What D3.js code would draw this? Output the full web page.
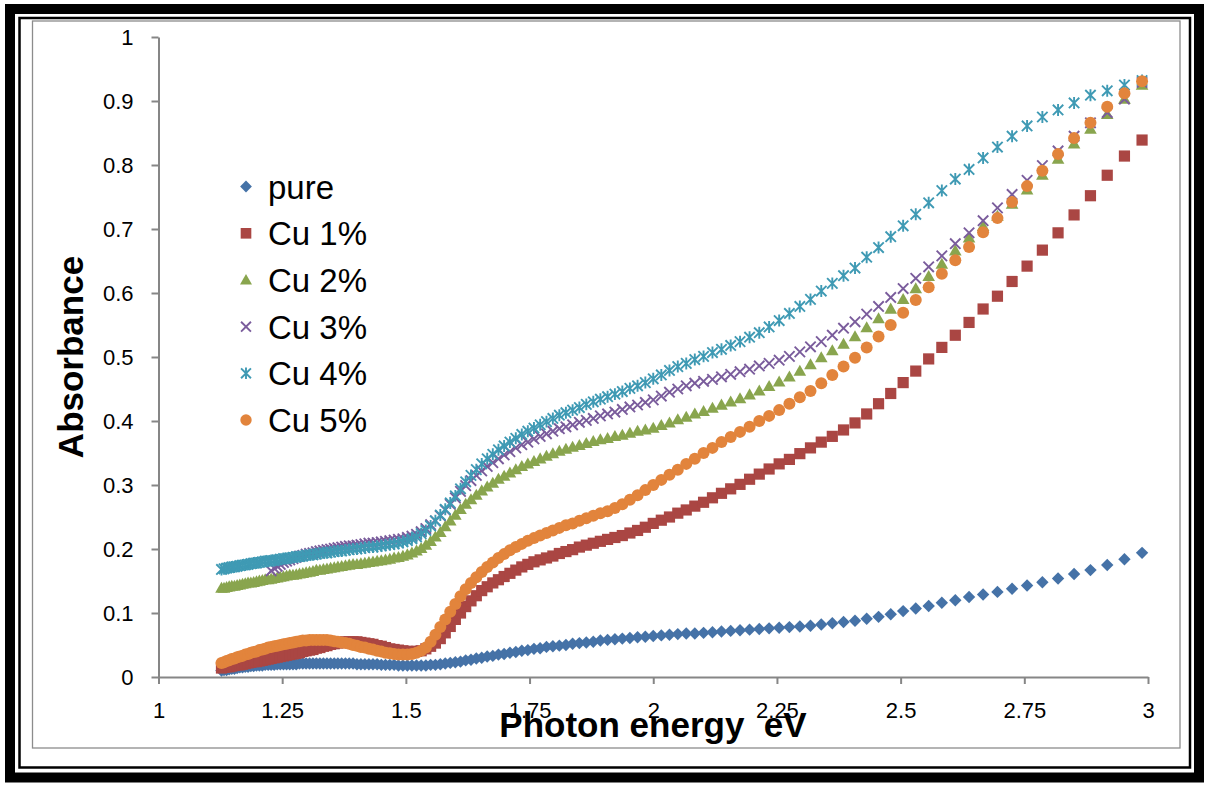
<!DOCTYPE html>
<html><head><meta charset="utf-8">
<script src="https://cdn.jsdelivr.net/npm/d3@7"></script>
<style>
html,body{margin:0;padding:0;background:#fff;}
svg{display:block;}
text{font-family:"Liberation Sans",Arial,sans-serif;fill:#000;}
</style></head><body>
<svg id="chart" width="1206" height="787"></svg>
<script>
// Photon energy (eV) of each measured point
const energy = [
1.1273,1.1324,1.1376,1.1429,1.1481,1.1535,1.1589,1.1643,1.1698,1.1754,
1.1810,1.1866,1.1923,1.1981,1.2039,1.2098,1.2157,1.2217,1.2277,1.2338,
1.2400,1.2462,1.2525,1.2589,1.2653,1.2718,1.2784,1.2850,1.2917,1.2984,
1.3053,1.3122,1.3191,1.3262,1.3333,1.3405,1.3478,1.3552,1.3626,1.3702,
1.3778,1.3855,1.3933,1.4011,1.4091,1.4171,1.4253,1.4335,1.4419,1.4503,
1.4588,1.4675,1.4762,1.4850,1.4940,1.5030,1.5122,1.5215,1.5309,1.5404,
1.5500,1.5597,1.5696,1.5796,1.5897,1.6000,1.6104,1.6209,1.6316,1.6424,
1.6533,1.6644,1.6757,1.6871,1.6986,1.7103,1.7222,1.7343,1.7465,1.7589,
1.7714,1.7842,1.7971,1.8102,1.8235,1.8370,1.8507,1.8647,1.8788,1.8931,
1.9077,1.9225,1.9375,1.9528,1.9683,1.9840,2.0000,2.0163,2.0328,2.0496,
2.0667,2.0840,2.1017,2.1197,2.1379,2.1565,2.1754,2.1947,2.2143,2.2342,
2.2545,2.2752,2.2963,2.3178,2.3396,2.3619,2.3846,2.4078,2.4314,2.4554,
2.4800,2.5051,2.5306,2.5567,2.5833,2.6105,2.6383,2.6667,2.6957,2.7253,
2.7556,2.7865,2.8182,2.8506,2.8837,2.9176,2.9524,2.9880];

const pure = [
0.010,0.011,0.011,0.012,0.013,0.013,0.014,0.015,0.015,0.016,
0.016,0.017,0.017,0.018,0.018,0.018,0.019,0.019,0.019,0.019,
0.020,0.020,0.020,0.020,0.020,0.020,0.020,0.021,0.021,0.021,
0.021,0.021,0.021,0.021,0.021,0.021,0.021,0.021,0.021,0.021,
0.021,0.021,0.021,0.020,0.020,0.020,0.020,0.020,0.020,0.019,
0.019,0.019,0.019,0.018,0.018,0.018,0.018,0.018,0.018,0.018,
0.019,0.019,0.020,0.021,0.022,0.023,0.024,0.026,0.027,0.029,
0.030,0.032,0.033,0.035,0.036,0.038,0.039,0.041,0.042,0.044,
0.045,0.047,0.048,0.049,0.050,0.052,0.053,0.054,0.055,0.057,
0.058,0.059,0.060,0.061,0.062,0.063,0.064,0.065,0.066,0.067,
0.068,0.068,0.069,0.070,0.071,0.072,0.073,0.074,0.075,0.076,
0.077,0.078,0.079,0.080,0.082,0.084,0.086,0.088,0.091,0.094,
0.098,0.103,0.107,0.111,0.116,0.120,0.125,0.129,0.133,0.138,
0.143,0.148,0.154,0.161,0.167,0.175,0.184,0.194];

const cu1 = [
0.014,0.015,0.016,0.016,0.017,0.018,0.019,0.019,0.020,0.021,
0.022,0.023,0.024,0.024,0.025,0.026,0.027,0.028,0.029,0.030,
0.031,0.032,0.033,0.034,0.035,0.036,0.037,0.038,0.040,0.041,
0.042,0.043,0.045,0.046,0.048,0.049,0.051,0.052,0.053,0.054,
0.055,0.055,0.055,0.055,0.054,0.053,0.052,0.051,0.049,0.048,
0.046,0.044,0.043,0.042,0.041,0.040,0.040,0.040,0.041,0.044,
0.048,0.053,0.060,0.069,0.079,0.090,0.100,0.110,0.119,0.127,
0.135,0.141,0.147,0.152,0.157,0.162,0.167,0.172,0.176,0.180,
0.183,0.186,0.189,0.193,0.196,0.199,0.203,0.206,0.209,0.212,
0.215,0.218,0.221,0.225,0.229,0.234,0.240,0.245,0.250,0.256,
0.261,0.267,0.273,0.280,0.287,0.294,0.301,0.309,0.317,0.325,
0.333,0.340,0.349,0.358,0.367,0.376,0.386,0.397,0.411,0.427,
0.443,0.460,0.478,0.497,0.515,0.534,0.554,0.575,0.595,0.618,
0.642,0.667,0.694,0.722,0.752,0.784,0.814,0.839];

const cu2 = [
0.139,0.139,0.140,0.141,0.142,0.142,0.143,0.144,0.145,0.146,
0.147,0.147,0.148,0.149,0.150,0.151,0.152,0.152,0.153,0.154,
0.155,0.156,0.157,0.158,0.159,0.159,0.160,0.161,0.162,0.163,
0.164,0.165,0.167,0.167,0.168,0.169,0.170,0.171,0.172,0.173,
0.174,0.175,0.176,0.176,0.177,0.178,0.179,0.180,0.181,0.182,
0.183,0.184,0.186,0.187,0.189,0.191,0.194,0.197,0.201,0.206,
0.212,0.219,0.226,0.235,0.244,0.253,0.262,0.270,0.277,0.284,
0.291,0.297,0.303,0.309,0.314,0.319,0.324,0.329,0.333,0.337,
0.341,0.345,0.349,0.353,0.356,0.359,0.362,0.365,0.368,0.371,
0.373,0.376,0.378,0.381,0.384,0.386,0.389,0.393,0.397,0.402,
0.406,0.411,0.415,0.420,0.425,0.430,0.435,0.441,0.447,0.454,
0.461,0.469,0.478,0.488,0.499,0.510,0.520,0.532,0.546,0.560,
0.575,0.590,0.607,0.626,0.645,0.666,0.686,0.704,0.720,0.739,
0.761,0.784,0.809,0.833,0.856,0.879,0.903,0.925];

const cu3 = [
null,null,null,null,null,null,null,null,null,null,
null,null,null,null,null,null,null,null,0.166,0.170,
0.173,0.176,0.179,0.181,0.183,0.185,0.187,0.189,0.190,0.192,
0.193,0.194,0.196,0.197,0.198,0.199,0.200,0.201,0.202,0.203,
0.204,0.205,0.205,0.206,0.207,0.208,0.209,0.209,0.210,0.211,
0.212,0.213,0.214,0.215,0.216,0.218,0.220,0.223,0.227,0.232,
0.238,0.244,0.252,0.261,0.270,0.280,0.290,0.299,0.307,0.315,
0.322,0.329,0.335,0.341,0.347,0.352,0.358,0.363,0.367,0.372,
0.376,0.380,0.384,0.388,0.391,0.394,0.398,0.401,0.404,0.408,
0.411,0.414,0.418,0.422,0.425,0.429,0.433,0.439,0.445,0.450,
0.455,0.459,0.462,0.465,0.469,0.473,0.477,0.481,0.486,0.490,
0.495,0.501,0.508,0.516,0.524,0.534,0.545,0.555,0.567,0.579,
0.593,0.607,0.623,0.641,0.658,0.677,0.694,0.713,0.733,0.754,
0.776,0.799,0.822,0.845,0.866,0.882,0.903,0.929];

const cu4 = [
0.168,0.169,0.170,0.171,0.172,0.172,0.173,0.174,0.175,0.175,
0.176,0.177,0.178,0.178,0.179,0.180,0.181,0.181,0.182,0.182,
0.183,0.184,0.185,0.185,0.186,0.187,0.188,0.188,0.189,0.190,
0.191,0.191,0.192,0.193,0.194,0.194,0.195,0.196,0.197,0.197,
0.198,0.199,0.200,0.200,0.201,0.202,0.203,0.203,0.204,0.205,
0.206,0.207,0.208,0.209,0.211,0.213,0.216,0.219,0.224,0.229,
0.236,0.244,0.253,0.262,0.272,0.283,0.294,0.305,0.315,0.324,
0.333,0.341,0.348,0.355,0.361,0.367,0.373,0.379,0.384,0.389,
0.394,0.399,0.404,0.409,0.413,0.417,0.421,0.426,0.430,0.434,
0.438,0.442,0.446,0.451,0.455,0.460,0.466,0.472,0.479,0.485,
0.490,0.496,0.501,0.507,0.512,0.518,0.524,0.531,0.538,0.547,
0.557,0.568,0.579,0.590,0.603,0.615,0.627,0.639,0.656,0.671,
0.688,0.705,0.723,0.741,0.760,0.778,0.793,0.811,0.828,0.845,
0.861,0.875,0.886,0.897,0.909,0.916,0.925,0.932];

const cu5 = [
0.022,0.023,0.025,0.026,0.028,0.029,0.031,0.032,0.033,0.035,
0.036,0.038,0.039,0.040,0.042,0.043,0.044,0.046,0.047,0.048,
0.049,0.050,0.051,0.052,0.053,0.054,0.055,0.056,0.057,0.057,
0.058,0.058,0.058,0.058,0.058,0.058,0.057,0.056,0.055,0.054,
0.053,0.052,0.050,0.049,0.047,0.046,0.044,0.043,0.041,0.040,
0.038,0.037,0.036,0.035,0.035,0.035,0.036,0.038,0.041,0.046,
0.055,0.066,0.078,0.090,0.102,0.114,0.126,0.137,0.147,0.156,
0.164,0.172,0.179,0.186,0.192,0.198,0.203,0.208,0.213,0.217,
0.221,0.225,0.229,0.233,0.237,0.240,0.244,0.248,0.252,0.256,
0.259,0.264,0.270,0.277,0.284,0.292,0.300,0.308,0.316,0.324,
0.333,0.341,0.350,0.358,0.367,0.375,0.383,0.391,0.400,0.408,
0.417,0.427,0.437,0.447,0.459,0.472,0.485,0.499,0.515,0.532,
0.550,0.569,0.589,0.609,0.630,0.651,0.672,0.695,0.717,0.742,
0.767,0.791,0.817,0.842,0.866,0.891,0.912,0.931];

const seriesNames = ["pure", "Cu 1%", "Cu 2%", "Cu 3%", "Cu 4%", "Cu 5%"];
const xTicks = [1, 1.25, 1.5, 1.75, 2, 2.25, 2.5, 2.75, 3];
const xTickLabels = ["1", "1.25", "1.5", "1.75", "2", "2.25", "2.5", "2.75", "3"];
const yTicks = [0, 0.1, 0.2, 0.3, 0.4, 0.5, 0.6, 0.7, 0.8, 0.9, 1];
const yTickLabels = ["0", "0.1", "0.2", "0.3", "0.4", "0.5", "0.6", "0.7", "0.8", "0.9", "1"];
const xTitle = "Photon energy  eV";
const yTitle = "Absorbance";

// ---------- drawing ----------
const svg = d3.select("#chart");
const W = 1206, H = 787;
svg.append("rect").attr("x",0).attr("y",0).attr("width",W).attr("height",H).attr("fill","#fff");

// page-style borders
svg.append("rect").attr("x",10).attr("y",9).attr("width",1189).attr("height",768.5)
  .attr("fill","none").attr("stroke","#000").attr("stroke-width",10);
svg.append("rect").attr("x",19.5).attr("y",18).attr("width",1170.5).attr("height",749.5)
  .attr("fill","none").attr("stroke","#000").attr("stroke-width",2.5);
// chart area border
svg.append("rect").attr("x",32.5).attr("y",21).attr("width",1147.5).attr("height",727)
  .attr("fill","none").attr("stroke","#8c8c8c").attr("stroke-width",1.3);

const x = d3.scaleLinear().domain([1, 3]).range([158.5, 1148]);
const y = d3.scaleLinear().domain([0, 1]).range([677, 37]);

const axisColor = "#868686";
const gy = svg.append("g").attr("transform","translate(158.5,0)")
  .call(d3.axisLeft(y).tickValues(yTicks).tickFormat((d,i)=>yTickLabels[i])
    .tickSizeInner(7).tickSizeOuter(0).tickPadding(18));
const gx = svg.append("g").attr("transform","translate(0,677)")
  .call(d3.axisBottom(x).tickValues(xTicks).tickFormat((d,i)=>xTickLabels[i])
    .tickSizeInner(7).tickSizeOuter(0).tickPadding(18));
[gx, gy].forEach(g => {
  g.select(".domain").attr("stroke", axisColor).attr("stroke-width", 2);
  g.selectAll(".tick line").attr("stroke", axisColor).attr("stroke-width", 2);
  g.selectAll(".tick text").attr("fill","#000")
    .style("font-family","'Liberation Sans',Arial,sans-serif").style("font-size","22px");
});

// custom marker shapes (size = half-width in px)
const shapes = {
  diamond: { draw(c, s) { c.moveTo(0,-s); c.lineTo(s,0); c.lineTo(0,s); c.lineTo(-s,0); c.closePath(); } },
  square:  { draw(c, s) { c.rect(-s,-s,2*s,2*s); } },
  triangle:{ draw(c, s) { const h = s*1.75; c.moveTo(0,-h*0.58); c.lineTo(s,h*0.42); c.lineTo(-s,h*0.42); c.closePath(); } },
  times:   { draw(c, s) { c.moveTo(-s,-s); c.lineTo(s,s); c.moveTo(-s,s); c.lineTo(s,-s); } },
  asterisk:{ draw(c, s) { c.moveTo(-s,-s); c.lineTo(s,s); c.moveTo(-s,s); c.lineTo(s,-s); c.moveTo(0,-s*1.15); c.lineTo(0,s*1.15); } },
  circle:  { draw(c, s) { c.moveTo(s,0); c.arc(0,0,s,0,2*Math.PI); } }
};

const series = [
  { name: seriesNames[0], values: pure, color: "#4572A7", shape: "diamond",  size: 6.2, filled: true },
  { name: seriesNames[1], values: cu1,  color: "#AA4643", shape: "square",   size: 5.6, filled: true },
  { name: seriesNames[2], values: cu2,  color: "#89A54E", shape: "triangle", size: 6.3, filled: true },
  { name: seriesNames[3], values: cu3,  color: "#7A5C9C", shape: "times",    size: 5.2, filled: false },
  { name: seriesNames[4], values: cu4,  color: "#3F9AB4", shape: "asterisk", size: 5.2, filled: false },
  { name: seriesNames[5], values: cu5,  color: "#E2843C", shape: "circle",   size: 6.0, filled: true }
];

function styleMarker(sel, s) {
  if (s.filled) sel.attr("fill", s.color).attr("stroke", "none");
  else sel.attr("fill", "none").attr("stroke", s.color).attr("stroke-width", 1.9);
}

const plot = svg.append("g");
series.forEach(s => {
  const pts = energy.map((e, i) => ({ e, v: s.values[i] })).filter(d => d.v !== null);
  const sym = d3.symbol().type(shapes[s.shape]).size(s.size);
  plot.append("g").selectAll("path").data(pts).join("path")
    .attr("transform", d => `translate(${x(d.e)},${y(d.v)})`)
    .attr("d", sym)
    .call(styleMarker, s);
});

// legend
const legendRows = [186.5, 233.3, 280, 326.7, 373.3, 420];
const lg = svg.append("g");
series.forEach((s, i) => {
  const sym = d3.symbol().type(shapes[s.shape]).size(s.size * 0.95);
  lg.append("path").attr("transform", `translate(246,${legendRows[i]})`).attr("d", sym).call(styleMarker, s);
  lg.append("text").attr("x", 268).attr("y", legendRows[i] + 12)
    .style("font-size", "33px").text(s.name);
});

// axis titles
svg.append("text").attr("x", 653).attr("y", 737).attr("text-anchor", "middle")
  .style("font-size", "35px").style("font-weight", "bold").style("white-space", "pre")
  .text(xTitle);
svg.append("text").attr("transform", "translate(83,357) rotate(-90)").attr("text-anchor", "middle")
  .style("font-size", "35px").style("font-weight", "bold")
  .text(yTitle);
</script>
</body></html>
